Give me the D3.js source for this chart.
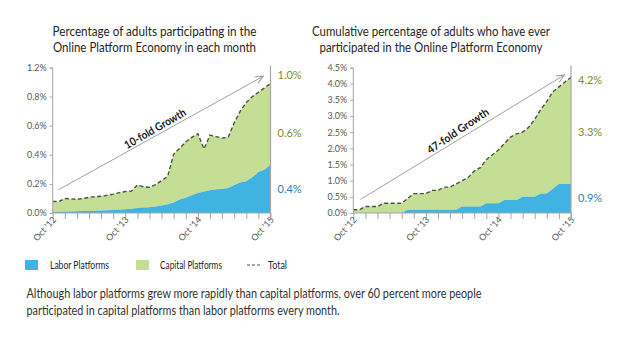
<!DOCTYPE html>
<html><head><meta charset="utf-8">
<script src="https://cdn.jsdelivr.net/npm/d3@7"></script>
<style>
body{margin:0;background:#fff;}
svg{display:block;font-family:Lato,"DejaVu Sans Condensed",sans-serif;}
</style></head>
<body>
<svg id="c" width="625" height="344"></svg>
<script>
// ---- data ----
const months = d3.timeMonth.range(new Date(2012, 9, 1), new Date(2015, 10, 1)); // Oct '12 .. Oct '15
const monthlyLabor = [0.008,0.009,0.010,0.011,0.012,0.013,0.014,0.015,0.017,0.019,0.021,0.023,0.026,0.030,0.034,0.037,0.040,0.045,0.052,0.060,0.072,0.092,0.105,0.122,0.138,0.147,0.156,0.163,0.165,0.172,0.192,0.210,0.218,0.245,0.282,0.298,0.333];
const monthlyTotal = [0.080,0.078,0.100,0.097,0.094,0.100,0.108,0.112,0.115,0.122,0.130,0.140,0.148,0.150,0.192,0.180,0.177,0.195,0.222,0.252,0.405,0.445,0.490,0.520,0.545,0.440,0.535,0.525,0.515,0.520,0.620,0.700,0.760,0.800,0.830,0.860,0.890];
const cumLabor = [0,0,0,0,0,0,0,0,0,0.1,0.1,0.1,0.1,0.1,0.1,0.1,0.1,0.1,0.2,0.2,0.2,0.2,0.3,0.3,0.3,0.4,0.4,0.4,0.5,0.5,0.5,0.6,0.6,0.75,0.9,0.9,0.9];
const cumTotal = [0.1,0.1,0.2,0.2,0.2,0.3,0.3,0.3,0.3,0.45,0.6,0.6,0.6,0.7,0.7,0.8,0.8,0.9,1.0,1.1,1.3,1.4,1.65,1.8,1.95,2.15,2.35,2.45,2.5,2.65,2.9,3.2,3.45,3.75,3.9,4.05,4.2];
const leftTicks = [0,0.2,0.4,0.6,0.8,1.0];
const leftTickLabels = ["0.0%","0.2%","0.4%","0.6%","0.8%","1.2%"];
const rightTicks = [0,0.5,1.0,1.5,2.0,2.5,3.0,3.5,4.0,4.5];
const rightTickLabels = ["0.0%","0.5%","1.0%","1.5%","2.0%","2.5%","3.0%","3.5%","4.0%","4.5%"];
const endLabelsLeft = [{t:"1.0%",v:0.95,c:"olive"},{t:"0.6%",v:0.55,c:"olive"},{t:"0.4%",v:0.165,c:"blue"}];
const endLabelsRight = [{t:"4.2%",v:4.1,c:"olive"},{t:"3.3%",v:2.5,c:"olive"},{t:"0.9%",v:0.45,c:"blue"}];
const titles = [["Percentage of adults participating in the","Online Platform Economy in each month"],
                ["Cumulative percentage of adults who have ever","participated in the Online Platform Economy"]];
const growth = ["10-fold Growth","47-fold Growth"];
const legendItems = ["Labor Platforms","Capital Platforms","Total"];
const caption = ["Although labor platforms grew more rapidly than capital platforms, over 60 percent more people",
                 "participated in capital platforms than labor platforms every month."];

// ---- style ----
const BLUE = "#41b3e3", GREEN = "#c5de96", DASH = "#4a5440", AXIS = "#a6a6a6", TXT = "#595959";
const LBLC = {olive:"#7d8a2c", blue:"#2f7db8"};

const svg = d3.select("#c");
const defs = svg.append("defs");
defs.append("marker").attr("id","arr").attr("viewBox","0 0 10 10").attr("refX",9).attr("refY",5)
  .attr("markerWidth",9).attr("markerHeight",9).attr("orient","auto").attr("markerUnits","userSpaceOnUse")
  .append("path").attr("d","M0,1 L9,5 L0,9").attr("fill","none").attr("stroke","#9a9a9a").attr("stroke-width",1.1);

function panel(cfg){
  const g = svg.append("g");
  const x = d3.scalePoint().domain(months).range([cfg.x0, cfg.x1]);
  const y = d3.scaleLinear().domain([0, cfg.ymax]).range([213, 67.5]);
  const idx = months.map((d,i)=>i);

  g.append("path").datum(idx)
    .attr("d", d3.area().x(i=>x(months[i])).y0(i=>y(cfg.labor[i])).y1(i=>y(cfg.total[i])))
    .attr("fill", GREEN);
  g.append("path").datum(idx)
    .attr("d", d3.area().x(i=>x(months[i])).y0(y(0)).y1(i=>y(cfg.labor[i])))
    .attr("fill", BLUE);
  g.append("path").datum(idx)
    .attr("d", d3.line().x(i=>x(months[i])).y(i=>y(cfg.total[i])))
    .attr("fill","none").attr("stroke",DASH).attr("stroke-width",1.4).attr("stroke-dasharray","4,2.5");

  // y axis
  const ya = d3.axisLeft(y).tickValues(cfg.ticks).tickSize(3).tickPadding(3)
    .tickFormat((d,i)=>cfg.tickLabels[i]);
  const yg = g.append("g").attr("transform",`translate(${cfg.x0},0)`).call(ya);
  yg.select(".domain").attr("stroke",AXIS).attr("d",`M-3,${y(cfg.ymax)+0.5}H0V${y(0)}`);
  yg.selectAll(".tick line").attr("stroke",AXIS);
  yg.selectAll("text").attr("fill",TXT).style("font-size","9px").style("font-family","Lato,sans-serif");

  // x axis
  const xt = months.filter((d,i)=>i%2===0);
  const xa = d3.axisBottom(x).tickValues(xt).tickSize(6).tickFormat("");
  const xg = g.append("g").attr("transform","translate(0,213)").call(xa);
  xg.select(".domain").attr("stroke",AXIS).attr("d",`M${cfg.x0},0H${cfg.x1}`);
  xg.selectAll(".tick line").attr("stroke",AXIS);
  const octs = months.filter(d=>d.getMonth()===9);
  g.selectAll(".xl").data(octs).join("text")
    .attr("transform",d=>`translate(${x(d)+4},${220}) rotate(-48)`)
    .attr("text-anchor","end").attr("fill",TXT)
    .style("font-size","9px")
    .text(d=>"Oct '"+String(d.getFullYear()).slice(2));

  // right reference line
  g.append("line").attr("x1",cfg.x1).attr("x2",cfg.x1).attr("y1",y(cfg.ymax)-2).attr("y2",219)
    .attr("stroke",AXIS).attr("stroke-width",1.2);

  // end labels
  g.selectAll(".el").data(cfg.endLabels).join("text")
    .attr("x",cfg.x1+7).attr("y",d=>y(d.v)).attr("dy","0.35em")
    .attr("fill",d=>LBLC[d.c]).style("font-size","11px")
    .text(d=>d.t);

  // growth arrow
  const a = cfg.arrow, step = x(months[1])-x(months[0]);
  const ax1 = x(months[0]) + a.m0*step, ay1 = y(a.v0);
  const ax2 = x(months[0]) + a.m1*step, ay2 = y(a.v1);
  g.append("line").attr("x1",ax1).attr("y1",ay1).attr("x2",ax2).attr("y2",ay2)
    .attr("stroke","#a0a0a0").attr("stroke-width",1).attr("marker-end","url(#arr)");
  g.append("text").attr("transform",`translate(${cfg.gx},${cfg.gy}) rotate(${cfg.gr})`)
    .attr("text-anchor","middle").attr("fill","#1a1a1a").style("font-weight","bold").style("font-size","11px")
    .attr("textLength",cfg.gw).attr("lengthAdjust","spacingAndGlyphs")
    .text(cfg.growth);

  // title
  g.append("text").attr("text-anchor","middle").attr("fill","#262626")
    .style("font-size","13.5px")
    .selectAll("tspan").data(cfg.title).join("tspan").attr("x",cfg.tx).attr("y",(d,i)=>36+i*15.5)
    .attr("textLength",(d,i)=>cfg.tw[i]).attr("lengthAdjust","spacingAndGlyphs").text(d=>d);
}

panel({x0:52.7,x1:270.5,ymax:1.0,labor:monthlyLabor,total:monthlyTotal,ticks:leftTicks,tickLabels:leftTickLabels,
  endLabels:endLabelsLeft,arrow:{m0:0.9,v0:0.158,m1:34.8,v1:0.94},growth:growth[0],gx:157,gy:132,gr:-30,gw:69,
  title:titles[0],tx:154.5,tw:[204,203]});
panel({x0:353.3,x1:571,ymax:4.5,labor:cumLabor,total:cumTotal,ticks:rightTicks,tickLabels:rightTickLabels,
  endLabels:endLabelsRight,arrow:{m0:1.2,v0:0.42,m1:34.9,v1:4.27},growth:growth[1],gx:460,gy:134,gr:-34,gw:72,
  title:titles[1],tx:431,tw:[238,223]});

// legend
const lg = svg.append("g").style("font-size","10.5px").attr("fill","#262626");
lg.append("rect").attr("x",25).attr("y",260).attr("width",13).attr("height",10).attr("fill",BLUE);
lg.append("text").attr("x",50).attr("y",265).attr("dy","0.35em").attr("textLength",59).attr("lengthAdjust","spacingAndGlyphs").text(legendItems[0]);
lg.append("rect").attr("x",136).attr("y",260).attr("width",13).attr("height",10).attr("fill",GREEN);
lg.append("text").attr("x",160).attr("y",265).attr("dy","0.35em").attr("textLength",62).attr("lengthAdjust","spacingAndGlyphs").text(legendItems[1]);
lg.append("line").attr("x1",247).attr("x2",261).attr("y1",265).attr("y2",265)
  .attr("stroke",DASH).attr("stroke-width",1.2).attr("stroke-dasharray","3,2");
lg.append("text").attr("x",268).attr("y",265).attr("dy","0.35em").attr("textLength",19).attr("lengthAdjust","spacingAndGlyphs").text(legendItems[2]);

// caption
const capW = [455, 313];
svg.append("text").attr("fill","#333").style("font-size","13px")
  .selectAll("tspan").data(caption).join("tspan").attr("x",26.5).attr("y",(d,i)=>297.5+i*17)
  .attr("textLength",(d,i)=>capW[i]).attr("lengthAdjust","spacingAndGlyphs").text(d=>d);
</script>
</body></html>
